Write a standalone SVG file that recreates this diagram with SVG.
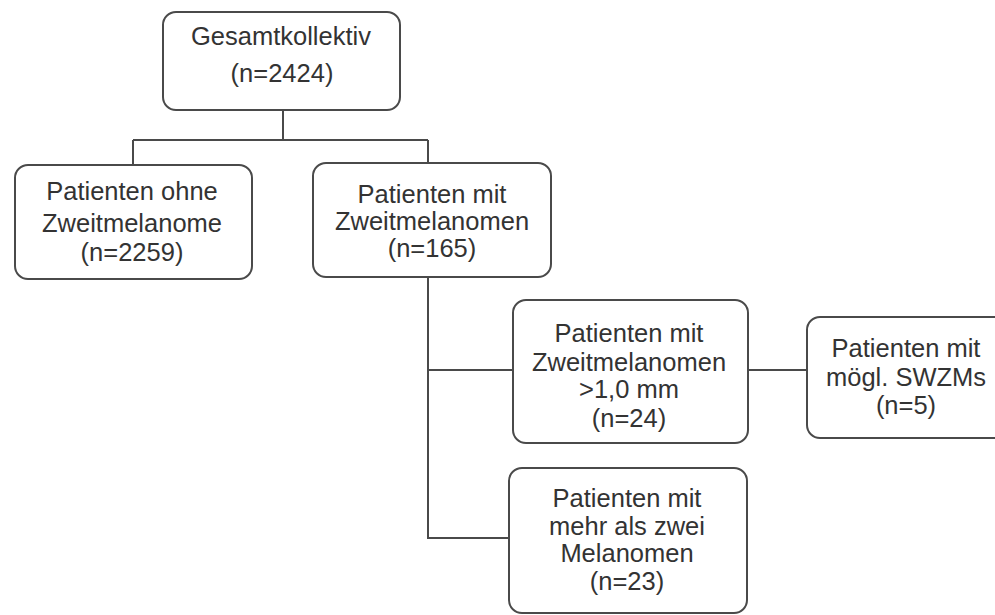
<svg xmlns="http://www.w3.org/2000/svg" width="995" height="615" viewBox="0 0 995 615">
<style>
.box{fill:#fff;stroke:#4a4a4a;stroke-width:2}
.t{font-family:"Liberation Sans",Arial,sans-serif;font-size:25.5px;fill:#333;text-anchor:middle}
.c{fill:none;stroke:#4a4a4a;stroke-width:2}
</style>
<rect width="995" height="615" fill="#fff"/>
<g id="connectors">
<path class="c" d="M283 110V140M133 140H428M133 140V165M428 140V163"/>
<path class="c" d="M428 277V538H509M428 370H513M748 370H807"/>
</g>
<g id="n1">
<rect class="box" x="163" y="12" width="237" height="98" rx="13"/>
<text class="t" x="281" y="45">Gesamtkollektiv</text>
<text class="t" x="282" y="82">(n=2424)</text>
</g>
<g id="n2">
<rect class="box" x="15" y="165" width="237" height="114" rx="13"/>
<text class="t" x="132" y="200">Patienten ohne</text>
<text class="t" x="132" y="232">Zweitmelanome</text>
<text class="t" x="132" y="261">(n=2259)</text>
</g>
<g id="n3">
<rect class="box" x="313" y="163" width="238" height="114" rx="13"/>
<text class="t" x="432" y="203">Patienten mit</text>
<text class="t" x="432" y="230">Zweitmelanomen</text>
<text class="t" x="432" y="257">(n=165)</text>
</g>
<g id="n4">
<rect class="box" x="513" y="300" width="235" height="143" rx="13"/>
<text class="t" x="629" y="342">Patienten mit</text>
<text class="t" x="629" y="371">Zweitmelanomen</text>
<text class="t" x="629" y="398">&gt;1,0 mm</text>
<text class="t" x="629" y="427">(n=24)</text>
</g>
<g id="n5">
<rect class="box" x="807" y="317" width="200" height="121" rx="13"/>
<text class="t" x="906" y="357">Patienten mit</text>
<text class="t" x="906" y="386">mögl. SWZMs</text>
<text class="t" x="906" y="414">(n=5)</text>
</g>
<g id="n6">
<rect class="box" x="509" y="468" width="238" height="145" rx="13"/>
<text class="t" x="627" y="507">Patienten mit</text>
<text class="t" x="627" y="535">mehr als zwei</text>
<text class="t" x="627" y="562">Melanomen</text>
<text class="t" x="627" y="590">(n=23)</text>
</g>
</svg>
